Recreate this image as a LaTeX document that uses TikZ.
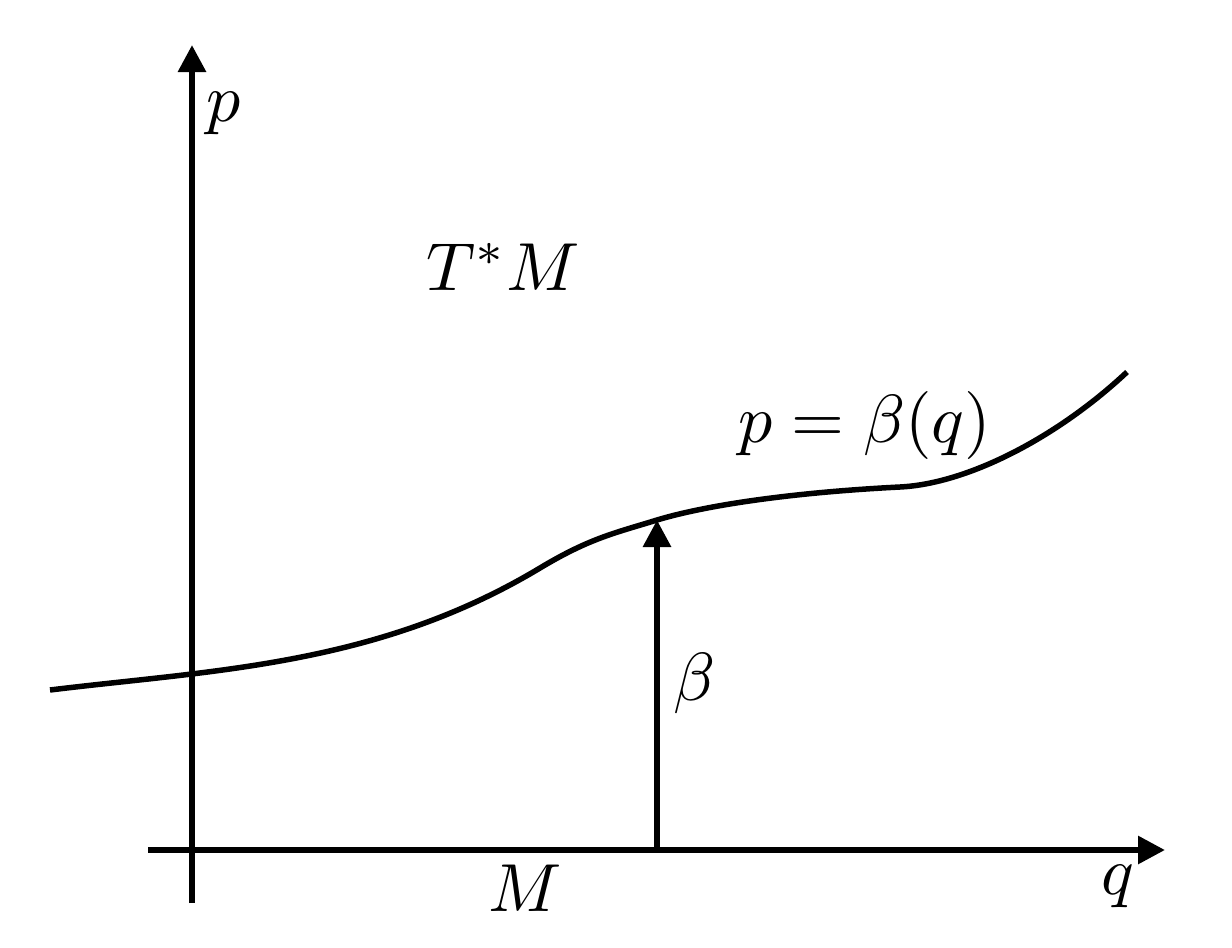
\documentclass[tikz,border=0pt]{standalone}
\usetikzlibrary{arrows.meta}
\newcommand{\biglbl}[1]{\scalebox{6.8}{$#1$}}
\begin{document}
\begin{tikzpicture}[x=1pt,y=-1pt,
  axis/.style={line width=6pt,-{Triangle[length=27pt,width=27pt]}},
  curveline/.style={line width=5.5pt},
  lab/.style={anchor=base west,inner sep=0pt}]
\useasboundingbox (0,0) rectangle (1232,948);
\coordinate (ybot) at (192,903);
\coordinate (ytop) at (192,45);
\coordinate (xleft) at (148,850);
\coordinate (xright) at (1165,850);
\coordinate (bfoot) at (657,850);
\coordinate (bhead) at (657,520);
\draw[axis] (ybot) -- (ytop);
\draw[axis] (xleft) -- (xright);
\draw[curveline] (50,690) .. controls (213,670) and (377,666) .. (540,568)
  .. controls (590,538) and (615,533) .. (bhead)
  .. controls (710,504) and (800,492) .. (900,487)
  .. controls (970,483.5) and (1060,435) .. (1127,372);
\draw[axis] (bfoot) -- (bhead);
\node[lab] (plab) at (206,121) {\biglbl{p}};
\node[lab] (tm) at (426,290) {\biglbl{T^*M}};
\node[lab] (eq) at (738,442) {\biglbl{p=\beta(q)}};
\node[lab] (blab) at (673,700) {\biglbl{\beta}};
\node[lab] (mlab) at (488,911) {\biglbl{M}};
\node[lab] (qlab) at (1101,894) {\biglbl{q}};
\end{tikzpicture}
\end{document}
